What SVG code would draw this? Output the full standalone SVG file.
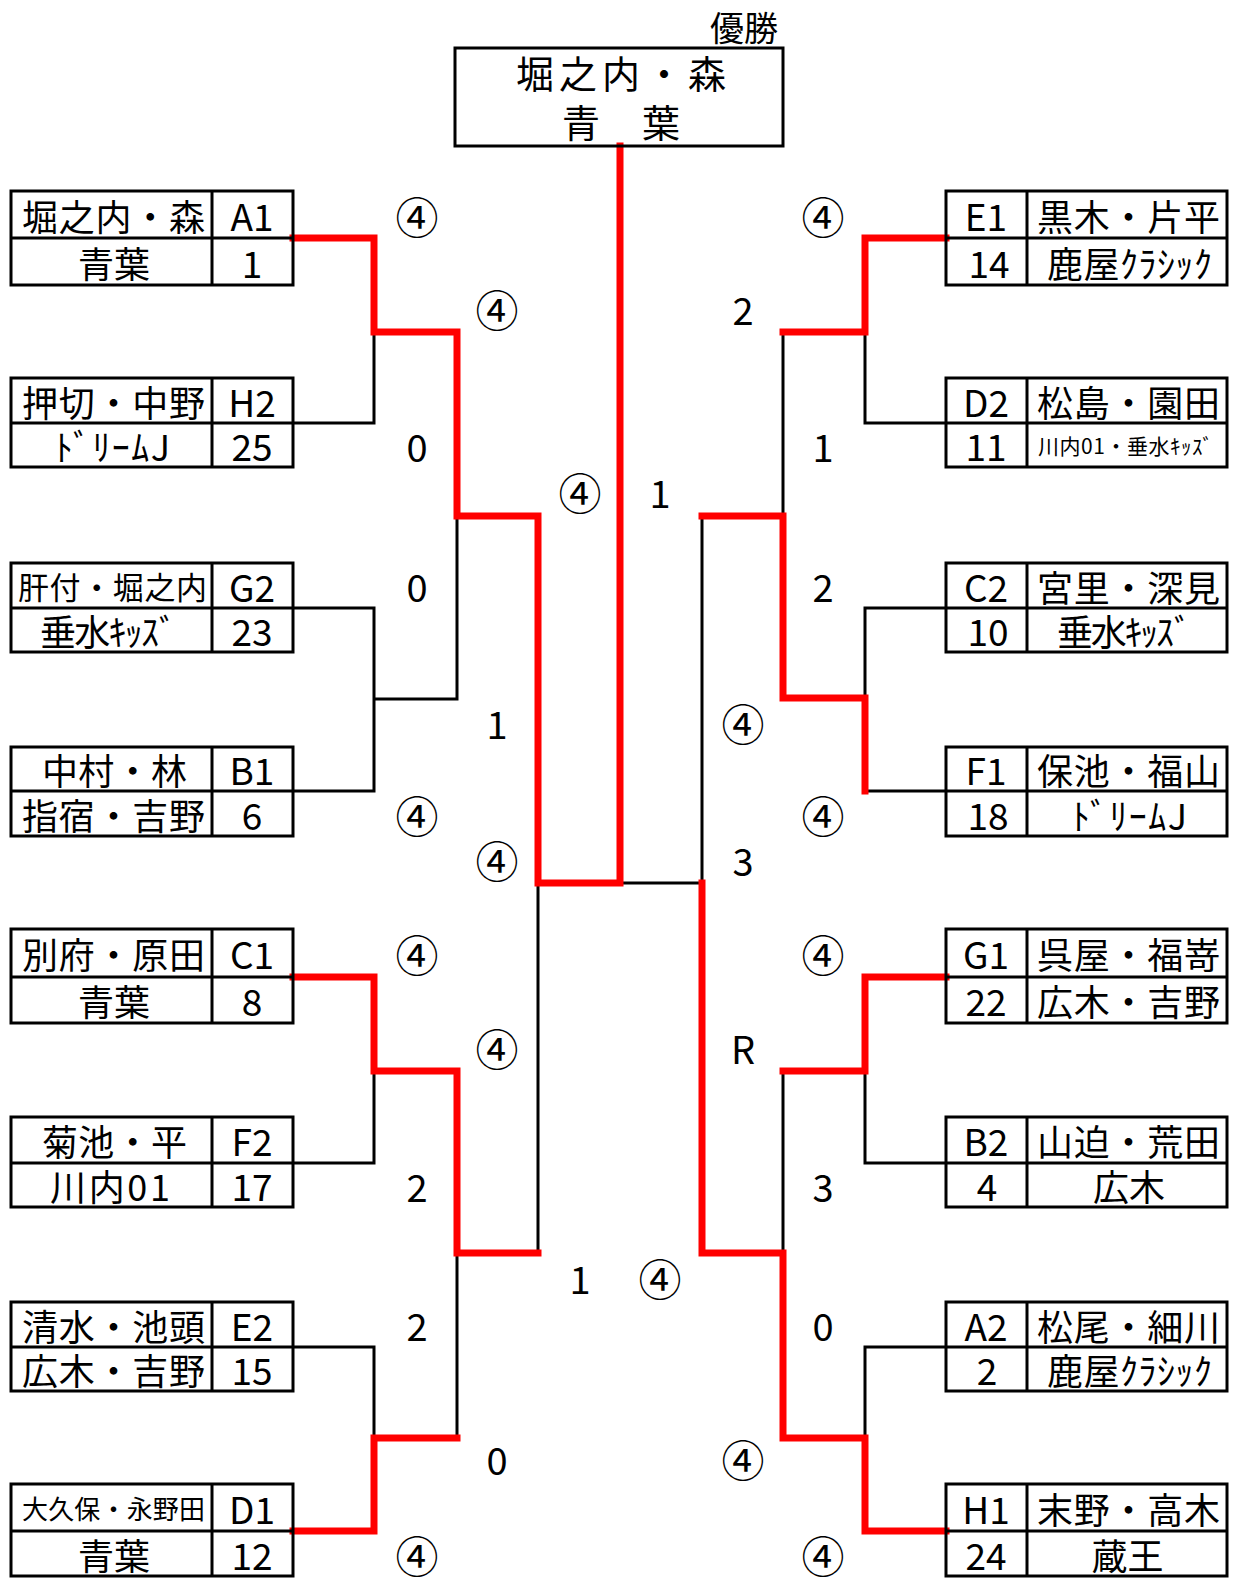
<svg xmlns="http://www.w3.org/2000/svg" width="1236" height="1578" viewBox="0 0 1236 1578">
<style>
.box{fill:none;stroke:#000;stroke-width:3}
.ln{fill:none;stroke:#000;stroke-width:3}
.win{fill:none;stroke:#ff0000;stroke-width:7;stroke-linejoin:miter;stroke-linecap:square}
text{font-family:'Noto Sans CJK JP',sans-serif;fill:#000;dominant-baseline:central;text-anchor:middle}
.t{font-size:36px}
.c{font-size:37px}
.s{font-size:38px}
.k{font-size:43px}
</style>
<rect width="1236" height="1578" fill="#fff"/>
<g id="connectors">
<path class="ln" d="M293 423H374V332"/>
<path class="ln" d="M293 608H374V791H293"/>
<path class="ln" d="M374 699H457V516"/>
<path class="ln" d="M293 1163H374V1071"/>
<path class="ln" d="M293 1347H374V1438"/>
<path class="ln" d="M457 1253V1438"/>
<path class="ln" d="M538 883V1253"/>
<path class="ln" d="M620 883H702"/>
<path class="ln" d="M946 423H865V332"/>
<path class="ln" d="M783 332V516"/>
<path class="ln" d="M702 516V883"/>
<path class="ln" d="M946 608H865V698"/>
<path class="ln" d="M865 791H946"/>
<path class="ln" d="M946 1163H865V1071"/>
<path class="ln" d="M783 1071V1253"/>
<path class="ln" d="M946 1347H865V1438"/>
<path class="win" d="M293 238H374V332H457V516H538V883H620V146"/>
<path class="win" d="M293 977H374V1071H457V1253H538"/>
<path class="win" d="M293 1531H374V1438H457"/>
<path class="win" d="M946 238H865V332H783"/>
<path class="win" d="M702 516H783V698H865V791"/>
<path class="win" d="M946 977H865V1071H783"/>
<path class="win" d="M946 1531H865V1438H783V1253H702V883"/>
</g>
<g id="champion">
<text style="font-size:34px" x="744" y="26">優勝</text>
<rect class="box" x="455" y="48" width="328" height="98"/>
<text style="font-size:38px" x="621" y="71" textLength="210">堀之内・森</text>
<text style="font-size:38px" x="621" y="120" textLength="118">青　葉</text>
</g>
<g id="A1">
<rect class="box" x="11" y="191" width="282" height="94"/>
<path class="box" d="M11 238H293M212 191V285"/>
<text class="t" x="113.5" y="214.5" textLength="183">堀之内・森</text>
<text class="c" x="252" y="214.5">A1</text>
<text class="t" x="114" y="261.5">青葉</text>
<text class="c" x="252" y="261.5">1</text>
</g>
<g id="H2">
<rect class="box" x="11" y="378" width="282" height="89"/>
<path class="box" d="M11 423H293M212 378V467"/>
<text class="t" x="113.5" y="400.5" textLength="183">押切・中野</text>
<text class="c" x="252" y="400.5">H2</text>
<text class="t" x="112.5" y="445" textLength="115">ﾄﾞﾘｰﾑJ</text>
<text class="c" x="252" y="445">25</text>
</g>
<g id="G2">
<rect class="box" x="11" y="563" width="282" height="89"/>
<path class="box" d="M11 608H293M212 563V652"/>
<text style="font-size:31px" x="112.5" y="585.5" textLength="189">肝付・堀之内</text>
<text class="c" x="252" y="585.5">G2</text>
<text class="t" x="108.5" y="630" textLength="137">垂水ｷｯｽﾞ</text>
<text class="c" x="252" y="630">23</text>
</g>
<g id="B1">
<rect class="box" x="11" y="747" width="282" height="89"/>
<path class="box" d="M11 791H293M212 747V836"/>
<text class="t" x="114.5" y="769" textLength="145">中村・林</text>
<text class="c" x="252" y="769">B1</text>
<text class="t" x="113.5" y="813.5" textLength="183">指宿・吉野</text>
<text class="c" x="252" y="813.5">6</text>
</g>
<g id="C1">
<rect class="box" x="11" y="929" width="282" height="94"/>
<path class="box" d="M11 977H293M212 929V1023"/>
<text class="t" x="113.5" y="953" textLength="183">別府・原田</text>
<text class="c" x="252" y="953">C1</text>
<text class="t" x="114" y="1000">青葉</text>
<text class="c" x="252" y="1000">8</text>
</g>
<g id="F2">
<rect class="box" x="11" y="1117" width="282" height="90"/>
<path class="box" d="M11 1163H293M212 1117V1207"/>
<text class="t" x="114.5" y="1140" textLength="145">菊池・平</text>
<text class="c" x="252" y="1140">F2</text>
<text class="t" x="110" y="1185" textLength="120">川内01</text>
<text class="c" x="252" y="1185">17</text>
</g>
<g id="E2">
<rect class="box" x="11" y="1302" width="282" height="89"/>
<path class="box" d="M11 1347H293M212 1302V1391"/>
<text class="t" x="113.5" y="1324.5" textLength="183">清水・池頭</text>
<text class="c" x="252" y="1324.5">E2</text>
<text class="t" x="113.5" y="1369" textLength="183">広木・吉野</text>
<text class="c" x="252" y="1369">15</text>
</g>
<g id="D1">
<rect class="box" x="11" y="1484" width="282" height="92"/>
<path class="box" d="M11 1531H293M212 1484V1576"/>
<text style="font-size:26px" x="113.5" y="1507.5" textLength="183">大久保・永野田</text>
<text class="c" x="252" y="1507.5">D1</text>
<text class="t" x="114" y="1553.5">青葉</text>
<text class="c" x="252" y="1553.5">12</text>
</g>
<g id="E1">
<rect class="box" x="946" y="191" width="281" height="94"/>
<path class="box" d="M946 238H1227M1027 191V285"/>
<text class="c" x="986" y="214.5">E1</text>
<text class="t" x="1128.5" y="214.5" textLength="183">黒木・片平</text>
<text class="c" x="989" y="261.5">14</text>
<text class="t" x="1129.5" y="261.5" textLength="165">鹿屋ｸﾗｼｯｸ</text>
</g>
<g id="D2">
<rect class="box" x="946" y="378" width="281" height="89"/>
<path class="box" d="M946 423H1227M1027 378V467"/>
<text class="c" x="986" y="400.5">D2</text>
<text class="t" x="1128.5" y="400.5" textLength="183">松島・園田</text>
<text class="c" x="986" y="445">11</text>
<text style="font-size:21px" x="1125.5" y="445" textLength="175">川内01・垂水ｷｯｽﾞ</text>
</g>
<g id="C2">
<rect class="box" x="946" y="563" width="281" height="89"/>
<path class="box" d="M946 608H1227M1027 563V652"/>
<text class="c" x="986" y="585.5">C2</text>
<text class="t" x="1128.5" y="585.5" textLength="183">宮里・深見</text>
<text class="c" x="988" y="630">10</text>
<text class="t" x="1124.5" y="630" textLength="135">垂水ｷｯｽﾞ</text>
</g>
<g id="F1">
<rect class="box" x="946" y="747" width="281" height="89"/>
<path class="box" d="M946 791H1227M1027 747V836"/>
<text class="c" x="986" y="769">F1</text>
<text class="t" x="1128.5" y="769" textLength="183">保池・福山</text>
<text class="c" x="988" y="813.5">18</text>
<text class="t" x="1129.5" y="813.5" textLength="115">ﾄﾞﾘｰﾑJ</text>
</g>
<g id="G1">
<rect class="box" x="946" y="929" width="281" height="94"/>
<path class="box" d="M946 977H1227M1027 929V1023"/>
<text class="c" x="986" y="953">G1</text>
<text class="t" x="1128.5" y="953" textLength="183">呉屋・福嵜</text>
<text class="c" x="986" y="1000">22</text>
<text class="t" x="1128.5" y="1000" textLength="183">広木・吉野</text>
</g>
<g id="B2">
<rect class="box" x="946" y="1117" width="281" height="90"/>
<path class="box" d="M946 1163H1227M1027 1117V1207"/>
<text class="c" x="986" y="1140">B2</text>
<text class="t" x="1128.5" y="1140" textLength="183">山迫・荒田</text>
<text class="c" x="987" y="1185">4</text>
<text class="t" x="1129" y="1185">広木</text>
</g>
<g id="A2">
<rect class="box" x="946" y="1302" width="281" height="89"/>
<path class="box" d="M946 1347H1227M1027 1302V1391"/>
<text class="c" x="986" y="1324.5">A2</text>
<text class="t" x="1128.5" y="1324.5" textLength="183">松尾・細川</text>
<text class="c" x="987" y="1369">2</text>
<text class="t" x="1129.5" y="1369" textLength="165">鹿屋ｸﾗｼｯｸ</text>
</g>
<g id="H1">
<rect class="box" x="946" y="1484" width="281" height="92"/>
<path class="box" d="M946 1531H1227M1027 1484V1576"/>
<text class="c" x="986" y="1507.5">H1</text>
<text class="t" x="1128.5" y="1507.5" textLength="183">末野・高木</text>
<text class="c" x="986" y="1553.5">24</text>
<text class="t" x="1127.5" y="1553.5">蔵王</text>
</g>
<g id="scores">
<text class="k" x="417" y="214.5">④</text>
<text class="s" x="417" y="445">0</text>
<text class="s" x="417" y="585.5">0</text>
<text class="k" x="417" y="813.5">④</text>
<text class="k" x="417" y="953">④</text>
<text class="s" x="417" y="1185">2</text>
<text class="s" x="417" y="1324.5">2</text>
<text class="k" x="417" y="1554">④</text>
<text class="k" x="497" y="308">④</text>
<text class="s" x="497" y="722">1</text>
<text class="k" x="497" y="859">④</text>
<text class="k" x="497" y="1047">④</text>
<text class="s" x="497" y="1458">0</text>
<text class="k" x="580" y="491">④</text>
<text class="s" x="660" y="491">1</text>
<text class="s" x="580" y="1277">1</text>
<text class="k" x="660" y="1277">④</text>
<text class="s" x="743" y="308">2</text>
<text class="k" x="743" y="722">④</text>
<text class="s" x="743" y="859">3</text>
<text class="s" x="743" y="1047">R</text>
<text class="k" x="743" y="1458">④</text>
<text class="k" x="823" y="214.5">④</text>
<text class="s" x="823" y="445">1</text>
<text class="s" x="823" y="585.5">2</text>
<text class="k" x="823" y="813.5">④</text>
<text class="k" x="823" y="953">④</text>
<text class="s" x="823" y="1185">3</text>
<text class="s" x="823" y="1324.5">0</text>
<text class="k" x="823" y="1554">④</text>
</g>
</svg>
